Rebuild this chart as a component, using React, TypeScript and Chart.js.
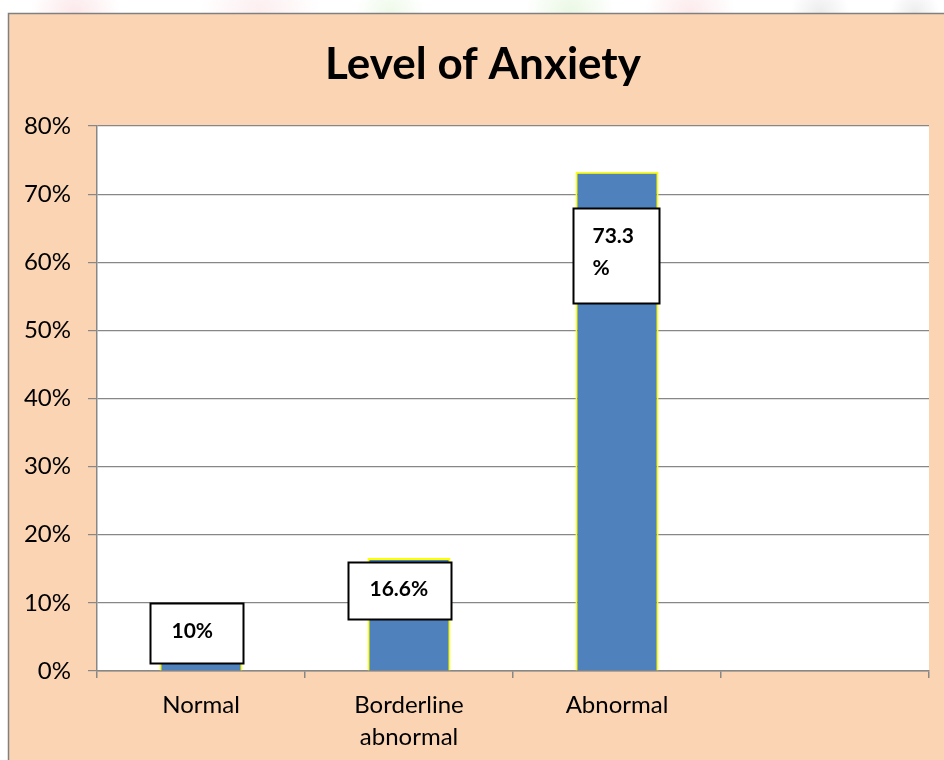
import React, { useEffect, useRef } from 'react';
import { Chart, registerables } from 'chart.js';

Chart.register(...registerables);

// ---- data ----
const categories: (string | string[])[] = ['Normal', ['Borderline', 'abnormal'], 'Abnormal', ''];
const anxietyValues: (number | null)[] = [10, 16.6, 73.3, null];
const valueLabels: string[][] = [['10%'], ['16.6%'], ['73.3', '%'], []];
const yTickValues: number[] = [0, 10, 20, 30, 40, 50, 60, 70, 80];
const titleText = 'Level of Anxiety';

// label box placement (pixel offsets relative to bar centre / bar top)
const labelBoxLayout = [
  { left: -51, right: 42, top: 0, height: 60, textX: 21, textY: 28 },
  { left: -61, right: 42, top: 4, height: 57, textX: 21, textY: 27 },
  { left: -44, right: 42, top: 36, height: 95, textX: 19, textY: 28 },
];

const PEACH = '#FBD4B4';
const GRAY = '#878787';
const FONT = 'Lato, "Open Sans", sans-serif';

const backgroundPlugin = {
  id: 'bgPlugin',
  beforeDraw(chart: any) {
    const { ctx, width, height, chartArea } = chart;
    ctx.save();
    ctx.fillStyle = '#ffffff';
    ctx.fillRect(0, 0, width, height);
    // faint watermark traces above the chart box
    const blobs = [
      { x: 75, r: 45, c: '240,150,160', a: 0.22 },
      { x: 260, r: 60, c: '240,150,160', a: 0.16 },
      { x: 390, r: 35, c: '150,220,120', a: 0.16 },
      { x: 570, r: 45, c: '150,220,120', a: 0.2 },
      { x: 690, r: 45, c: '240,150,160', a: 0.2 },
      { x: 820, r: 30, c: '120,120,120', a: 0.14 },
      { x: 915, r: 25, c: '120,120,120', a: 0.14 },
    ];
    blobs.forEach((b) => {
      const g = ctx.createRadialGradient(b.x, 13, 0, b.x, 13, b.r);
      g.addColorStop(0, `rgba(${b.c},${b.a})`);
      g.addColorStop(1, `rgba(${b.c},0)`);
      ctx.fillStyle = g;
      ctx.fillRect(b.x - b.r, 0, b.r * 2, 13);
    });
    // chart box
    ctx.fillStyle = PEACH;
    ctx.fillRect(8, 13, width, height);
    ctx.strokeStyle = '#808080';
    ctx.lineWidth = 1.5;
    ctx.beginPath();
    ctx.moveTo(8.5, height + 5);
    ctx.lineTo(8.5, 13.5);
    ctx.lineTo(width + 5, 13.5);
    ctx.stroke();
    // plot area
    ctx.fillStyle = '#ffffff';
    ctx.fillRect(chartArea.left, chartArea.top, chartArea.right - chartArea.left, chartArea.bottom - chartArea.top);
    // title
    ctx.fillStyle = '#000000';
    ctx.font = `bold 44px ${FONT}`;
    ctx.textAlign = 'center';
    ctx.textBaseline = 'alphabetic';
    ctx.fillText(titleText, 483, 79);
    ctx.restore();
  },
  afterDatasetsDraw(chart: any) {
    const { ctx } = chart;
    const meta = chart.getDatasetMeta(0);
    ctx.save();
    valueLabels.forEach((lines, i) => {
      const el = meta.data[i];
      const lay = labelBoxLayout[i];
      if (!el || !lay || lines.length === 0) return;
      const x0 = Math.round(el.x + lay.left) + 0.5;
      const x1 = Math.round(el.x + lay.right) + 0.5;
      const y0 = Math.round(el.y + lay.top) + 0.5;
      const h = lay.height;
      ctx.fillStyle = '#ffffff';
      ctx.fillRect(x0, y0, x1 - x0, h);
      ctx.strokeStyle = '#000000';
      ctx.lineWidth = 2;
      ctx.strokeRect(x0, y0, x1 - x0, h);
      ctx.fillStyle = '#000000';
      ctx.font = `bold 21px ${FONT}`;
      ctx.textAlign = 'left';
      ctx.textBaseline = 'middle';
      lines.forEach((t, k) => {
        ctx.fillText(t, x0 + lay.textX, y0 + lay.textY + k * 32);
      });
    });
    ctx.restore();
  },
};

export default function App() {
  const canvasRef = useRef<HTMLCanvasElement | null>(null);

  useEffect(() => {
    const canvas = canvasRef.current;
    if (!canvas) return;
    const chart = new Chart(canvas, {
      type: 'bar',
      data: {
        labels: categories,
        datasets: [
          {
            data: anxietyValues,
            backgroundColor: '#4F81BD',
            borderColor: '#FFFF00',
            borderWidth: { top: 2, left: 2, right: 2, bottom: 0 },
            borderSkipped: false,
            barPercentage: 0.4,
            categoryPercentage: 1,
          },
        ],
      },
      options: {
        responsive: false,
        animation: false,
        devicePixelRatio: 1,
        layout: { padding: { left: 0, right: 15, top: 126, bottom: 0 } },
        plugins: {
          legend: { display: false },
          tooltip: { enabled: false },
          title: { display: false },
        },
        scales: {
          x: {
            offset: true,
            grid: {
              display: true,
              offset: true,
              drawOnChartArea: false,
              drawTicks: true,
              tickLength: 7,
              color: GRAY,
              lineWidth: 1.5,
            },
            border: { display: true, color: GRAY, width: 1.5 },
            ticks: {
              color: '#000000',
              font: { family: FONT, size: 24, lineHeight: 1.33 },
              padding: 11,
              maxRotation: 0,
              autoSkip: false,
            },
            afterFit(scale: any) {
              scale.height = 89;
            },
          },
          y: {
            min: 0,
            max: 80,
            afterBuildTicks(scale: any) {
              scale.ticks = yTickValues.map((v) => ({ value: v }));
            },
            grid: {
              color: GRAY,
              lineWidth: 1.2,
              tickLength: 9,
              drawTicks: true,
            },
            border: { display: true, color: GRAY, width: 1.5 },
            ticks: {
              color: '#000000',
              font: { family: FONT, size: 24 },
              padding: 17,
              callback: (v: any) => `${v}%`,
            },
            afterFit(scale: any) {
              scale.width = 97;
            },
          },
        },
      },
      plugins: [backgroundPlugin],
    });
    return () => chart.destroy();
  }, []);

  return (
    <div style={{ position: 'absolute', left: 0, top: 0, width: 944, height: 760 }}>
      <canvas ref={canvasRef} width={944} height={760} style={{ display: 'block' }} />
    </div>
  );
}
